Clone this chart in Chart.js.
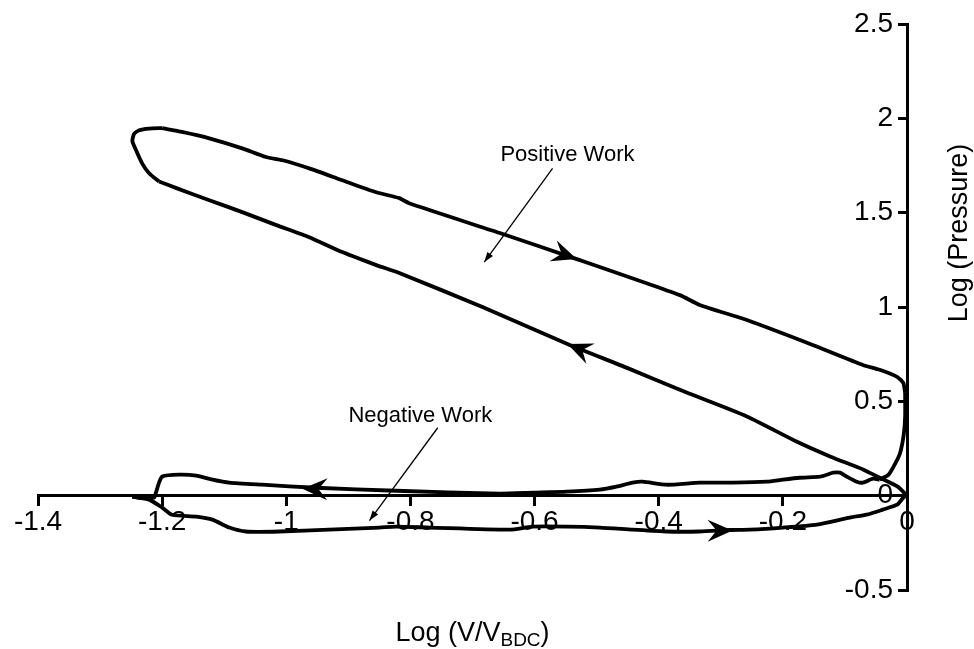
<!DOCTYPE html>
<html>
<head>
<meta charset="utf-8">
<script src="https://cdn.jsdelivr.net/npm/chart.js@4/dist/chart.umd.min.js"></script>
<style>
  html, body { margin: 0; padding: 0; background: #fff; }
  #wrap { width: 974px; height: 649px; }
</style>
</head>
<body>
<div id="wrap"><canvas id="c" width="974" height="649"></canvas></div>
<script>
// Log P – log V cycle, one closed loop split into its strokes.
// x = log(V/V_BDC), y = log(pressure)

const intakeX = [-1.248, -1.221, -1.200, -1.184, -1.145, -1.119, -1.092, -1.065, -1.011, -0.931, -0.850, -0.823, -0.769, -0.640, -0.603, -0.548, -0.495, -0.442, -0.387, -0.334, -0.285, -0.253, -0.200, -0.145, -0.092, -0.065, -0.039, -0.016, -0.006, 0];
const intakeY = [-0.005, -0.021, -0.063, -0.101, -0.111, -0.127, -0.169, -0.190, -0.190, -0.180, -0.169, -0.164, -0.169, -0.180, -0.164, -0.164, -0.169, -0.180, -0.190, -0.190, -0.182, -0.180, -0.169, -0.153, -0.116, -0.101, -0.074, -0.048, -0.011, 0];

const compressionX = [0, -0.015, -0.044, -0.070, -0.124, -0.178, -0.258, -0.366, -0.450, -0.547, -0.684, -0.818, -0.855, -0.910, -0.963, -1.016, -1.071, -1.124, -1.177, -1.205];
const compressionY = [0, 0.048, 0.095, 0.138, 0.208, 0.287, 0.420, 0.561, 0.676, 0.804, 1.000, 1.180, 1.222, 1.291, 1.370, 1.434, 1.503, 1.566, 1.630, 1.665];

const combustionX = [-1.205, -1.221, -1.232, -1.242, -1.248, -1.245, -1.237, -1.221, -1.200];
const combustionY = [1.665, 1.709, 1.760, 1.831, 1.880, 1.918, 1.937, 1.946, 1.948];

const expansionX = [-1.200, -1.168, -1.124, -1.071, -1.033, -1.006, -0.963, -0.910, -0.855, -0.818, -0.802, -0.656, -0.532, -0.366, -0.334, -0.258, -0.152, -0.071, -0.044, -0.016, -0.006, -0.003];
const expansionY = [1.948, 1.928, 1.894, 1.841, 1.795, 1.778, 1.735, 1.672, 1.608, 1.577, 1.550, 1.392, 1.254, 1.063, 1.011, 0.931, 0.799, 0.693, 0.667, 0.630, 0.598, 0.545];

const blowdownX = [-0.003, -0.003, -0.005, -0.011, -0.019, -0.030, -0.044];
const blowdownY = [0.545, 0.420, 0.330, 0.228, 0.170, 0.110, 0.085];

const exhaustX = [-0.044, -0.055, -0.071, -0.081, -0.097, -0.108, -0.119, -0.129, -0.140, -0.173, -0.200, -0.226, -0.281, -0.334, -0.387, -0.426, -0.442, -0.468, -0.495, -0.548, -0.603, -0.656, -0.823, -0.952, -1.039, -1.092, -1.119, -1.145, -1.173, -1.200, -1.205, -1.210, -1.213, -1.237, -1.248];
const exhaustY = [0.085, 0.090, 0.069, 0.074, 0.101, 0.122, 0.122, 0.111, 0.101, 0.095, 0.085, 0.074, 0.069, 0.069, 0.058, 0.074, 0.069, 0.048, 0.032, 0.021, 0.016, 0.011, 0.026, 0.042, 0.058, 0.069, 0.085, 0.106, 0.111, 0.101, 0.069, 0.016, -0.011, -0.011, -0.005];

const xTickValues = [-1.4, -1.2, -1, -0.8, -0.6, -0.4, -0.2, 0];
const xTickLabels = ['-1.4', '-1.2', '-1', '-0.8', '-0.6', '-0.4', '-0.2', '0'];
const yTickValues = [-0.5, 0, 0.5, 1, 1.5, 2, 2.5];
const yTickLabels = ['-0.5', '0', '0.5', '1', '1.5', '2', '2.5'];

// Direction arrows on the strokes: tip and a point behind it on the same stroke
const strokeArrows = [
  { tip: [-0.532, 1.254], tail: [-0.600, 1.331] },
  { tip: [-0.547, 0.804], tail: [-0.500, 0.740] },
  { tip: [-0.974, 0.037], tail: [-0.900, 0.032] },
  { tip: [-0.281, -0.184], tail: [-0.340, -0.186] }
];

// Labelled pointers
const notes = [
  { text: 'Positive Work', at: [-0.547, 1.804], from: [-0.571, 1.735], to: [-0.681, 1.238] },
  { text: 'Negative Work', at: [-0.784, 0.423], from: [-0.756, 0.360], to: [-0.866, -0.132] }
];

const pts = (xs, ys) => xs.map((x, i) => ({ x, y: ys[i] }));

const FONT = '"Liberation Sans", Arial, Helvetica, sans-serif';

const strokeStyle = { borderColor: '#000', borderWidth: 3.8, pointRadius: 0, showLine: true, fill: false, tension: 0.2 };

function drawHead(ctx, x1, y1, x2, y2, len, half, notch) {
  const a = Math.atan2(y2 - y1, x2 - x1);
  ctx.save();
  ctx.translate(x2, y2);
  ctx.rotate(a);
  ctx.beginPath();
  ctx.moveTo(0, 0);
  ctx.lineTo(-len, -half);
  ctx.lineTo(-len + notch, 0);
  ctx.lineTo(-len, half);
  ctx.closePath();
  ctx.fill();
  ctx.restore();
}

const decorations = {
  id: 'decorations',
  afterDatasetsDraw(chart) {
    const { ctx, scales: { x, y }, chartArea } = chart;
    ctx.save();
    ctx.fillStyle = '#000';
    ctx.strokeStyle = '#000';

    strokeArrows.forEach(a => {
      drawHead(ctx,
        x.getPixelForValue(a.tail[0]), y.getPixelForValue(a.tail[1]),
        x.getPixelForValue(a.tip[0]), y.getPixelForValue(a.tip[1]),
        25, 11, 9);
    });

    notes.forEach(n => {
      ctx.font = '22px ' + FONT;
      ctx.textAlign = 'center';
      ctx.textBaseline = 'middle';
      ctx.fillText(n.text, x.getPixelForValue(n.at[0]), y.getPixelForValue(n.at[1]));
      const fx = x.getPixelForValue(n.from[0]), fy = y.getPixelForValue(n.from[1]);
      const tx = x.getPixelForValue(n.to[0]), ty = y.getPixelForValue(n.to[1]);
      ctx.lineWidth = 1.3;
      ctx.beginPath();
      ctx.moveTo(fx, fy);
      ctx.lineTo(tx, ty);
      ctx.stroke();
      drawHead(ctx, fx, fy, tx, ty, 10, 3.5, 0);
    });

    // y-axis title
    ctx.save();
    ctx.translate(chartArea.right + 53, 233);
    ctx.rotate(-Math.PI / 2);
    ctx.font = '27px ' + FONT;
    ctx.textAlign = 'center';
    ctx.textBaseline = 'middle';
    ctx.fillText('Log (Pressure)', 0, 0);
    ctx.restore();

    // x-axis title with subscript
    const main = '27px ' + FONT, sub = '19px ' + FONT;
    ctx.textBaseline = 'alphabetic';
    ctx.textAlign = 'left';
    ctx.font = main; const w1 = ctx.measureText('Log (V/V').width; const w3 = ctx.measureText(')').width;
    ctx.font = sub; const w2 = ctx.measureText('BDC').width;
    const cx = (chartArea.left + chartArea.right) / 2;
    let sx = cx - (w1 + w2 + w3) / 2;
    const base = 641;
    ctx.font = main; ctx.fillText('Log (V/V', sx, base); sx += w1;
    ctx.font = sub; ctx.fillText('BDC', sx, base + 5); sx += w2;
    ctx.font = main; ctx.fillText(')', sx, base);

    ctx.restore();
  }
};

new Chart(document.getElementById('c'), {
  type: 'scatter',
  data: {
    datasets: [
      Object.assign({ label: 'Intake', data: pts(intakeX, intakeY) }, strokeStyle),
      Object.assign({ label: 'Compression', data: pts(compressionX, compressionY) }, strokeStyle),
      Object.assign({ label: 'Combustion', data: pts(combustionX, combustionY) }, strokeStyle),
      Object.assign({ label: 'Expansion', data: pts(expansionX, expansionY) }, strokeStyle),
      Object.assign({ label: 'Blowdown', data: pts(blowdownX, blowdownY) }, strokeStyle),
      Object.assign({ label: 'Exhaust', data: pts(exhaustX, exhaustY) }, strokeStyle)
    ]
  },
  options: {
    responsive: false,
    animation: false,
    devicePixelRatio: 1,
    layout: { padding: { left: 38, top: 24, right: 67, bottom: 59 } },
    plugins: { legend: { display: false }, tooltip: { enabled: false } },
    scales: {
      x: {
        type: 'linear',
        position: { y: 0 },
        min: -1.4, max: 0,
        afterBuildTicks(s) { s.ticks = xTickValues.map(v => ({ value: v })); },
        grid: { display: true, drawOnChartArea: false, drawTicks: true, tickLength: 9, color: '#000', lineWidth: 3 },
        border: { display: true, color: '#000', width: 3 },
        ticks: {
          color: '#000', padding: 1, maxRotation: 0, autoSkip: false,
          font: { family: FONT, size: 28 },
          callback: v => xTickLabels[xTickValues.indexOf(v)]
        }
      },
      y: {
        type: 'linear',
        position: 'right',
        min: -0.5, max: 2.5,
        afterFit(s) { s.width = 0; },
        afterBuildTicks(s) { s.ticks = yTickValues.map(v => ({ value: v })); },
        grid: { display: true, drawOnChartArea: false, drawTicks: true, tickLength: -9, color: '#000', lineWidth: 3 },
        border: { display: true, color: '#000', width: 3 },
        ticks: {
          color: '#000', mirror: true, padding: -14, autoSkip: false,
          font: { family: FONT, size: 28 },
          callback: v => yTickLabels[yTickValues.indexOf(v)]
        }
      }
    }
  },
  plugins: [decorations]
});
</script>
</body>
</html>
